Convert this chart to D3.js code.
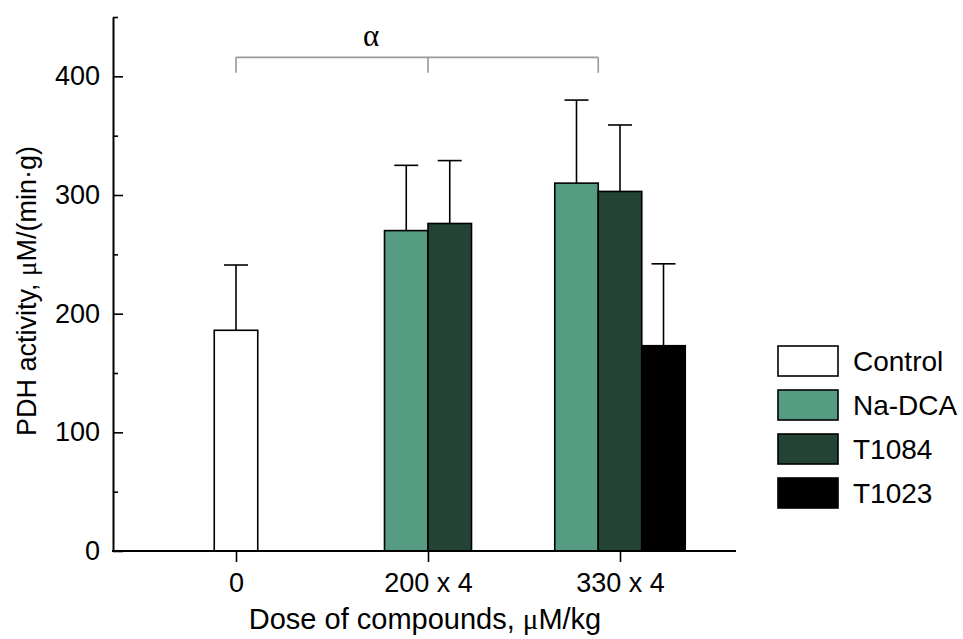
<!DOCTYPE html>
<html>
<head>
<meta charset="utf-8">
<script src="https://cdn.jsdelivr.net/npm/d3@7"></script>
<style>
  body { margin: 0; background: #fff; }
  text { font-family: "Liberation Sans", Arial, sans-serif; fill: #000; }
</style>
</head>
<body>
<svg id="chart" width="963" height="639"></svg>
<script>
// data
const categories = ["0", "200 x 4", "330 x 4"];
const seriesNames = ["Control", "Na-DCA", "T1084", "T1023"];
const seriesColors = ["#ffffff", "#559c83", "#234434", "#000000"];

const controlMean = [186, null, null];
const naDcaMean = [null, 270, 310];
const t1084Mean = [null, 276, 303];
const t1023Mean = [null, null, 173];

const controlSd = [55, null, null];
const naDcaSd = [null, 55, 70];
const t1084Sd = [null, 53, 56];
const t1023Sd = [null, null, 69];

const yMajorTicks = [0, 100, 200, 300, 400];
const yMinorTicks = [50, 150, 250, 350, 450];

const means = [controlMean, naDcaMean, t1084Mean, t1023Mean];
const sds = [controlSd, naDcaSd, t1084Sd, t1023Sd];

const svg = d3.select("#chart");
const plotLeft = 113, plotRight = 736, plotTop = 17, plotBottom = 551;
const barW = 43.5;

const y = d3.scaleLinear().domain([0, 450]).range([plotBottom, plotTop]);
const x = d3.scalePoint().domain(categories).range([236, 620]);

// build bar records, each group centred on its category
let bars = [];
categories.forEach((c, ci) => {
    const present = [];
    means.forEach((m, si) => { if (m[ci] !== null) present.push(si); });
    present.forEach((si, k) => {
        bars.push({
            cat: c,
            series: si,
            value: means[si][ci],
            sd: sds[si][ci],
            x0: x(c) + (k - present.length / 2) * barW
        });
    });
});

// bars
svg.append("g").selectAll("rect")
    .data(bars)
    .enter().append("rect")
    .attr("x", d => d.x0)
    .attr("y", d => y(d.value))
    .attr("width", barW)
    .attr("height", d => y(0) - y(d.value))
    .attr("fill", d => seriesColors[d.series])
    .attr("stroke", "#000")
    .attr("stroke-width", 1.6);

// upper error bars
const err = svg.append("g").attr("stroke", "#000").attr("stroke-width", 1.6);
err.selectAll(".v")
    .data(bars)
    .enter().append("line")
    .attr("x1", d => d.x0 + barW / 2).attr("x2", d => d.x0 + barW / 2)
    .attr("y1", d => y(d.value)).attr("y2", d => y(d.value + d.sd));
err.selectAll(".h")
    .data(bars)
    .enter().append("line")
    .attr("x1", d => d.x0 + barW / 2 - 12).attr("x2", d => d.x0 + barW / 2 + 12)
    .attr("y1", d => y(d.value + d.sd)).attr("y2", d => y(d.value + d.sd));

// y axis
const yAxis = svg.append("g")
    .attr("transform", `translate(${plotLeft},0)`)
    .call(d3.axisLeft(y).tickValues(yMajorTicks).tickSize(-10).tickSizeOuter(0).tickPadding(13));
yAxis.selectAll("text").attr("font-size", 27).style("font-size", "27px");
yAxis.select(".domain").attr("stroke-width", 2);
yAxis.selectAll(".tick line").attr("stroke-width", 1.6);
svg.append("g")
    .attr("transform", `translate(${plotLeft},0)`)
    .call(d3.axisLeft(y).tickValues(yMinorTicks).tickSize(-5).tickFormat(""))
    .call(g => g.select(".domain").remove())
    .selectAll(".tick line").attr("stroke-width", 1.6);

// x axis
const xAxis = svg.append("g")
    .attr("transform", `translate(0,${plotBottom})`)
    .call(d3.axisBottom(x).tickSize(11).tickPadding(11));
xAxis.select(".domain").remove();
xAxis.selectAll("text").attr("font-size", 27).style("font-size", "27px");
xAxis.selectAll(".tick line").attr("stroke-width", 1.6);
svg.append("line")
    .attr("x1", plotLeft - 1).attr("x2", plotRight)
    .attr("y1", plotBottom).attr("y2", plotBottom)
    .attr("stroke", "#000").attr("stroke-width", 2);

// significance bracket
const brY = y(416), dropY = y(403);
const brPts = [x(categories[0]), x(categories[1]), x(categories[2]) - barW / 2];
const br = svg.append("g").attr("stroke", "#999").attr("stroke-width", 1.6).attr("fill", "none");
br.append("line").attr("x1", brPts[0]).attr("x2", brPts[2]).attr("y1", brY).attr("y2", brY);
br.selectAll(".drop").data(brPts).enter().append("line")
    .attr("x1", d => d).attr("x2", d => d)
    .attr("y1", brY).attr("y2", dropY);
svg.append("text")
    .attr("x", (brPts[0] + brPts[2]) / 2 - 46)
    .attr("y", brY - 11)
    .attr("text-anchor", "middle")
    .style("font-family", "'Liberation Serif', serif")
    .style("font-size", "31px")
    .text("α");

// axis titles
const xt = svg.append("text")
    .attr("x", 425)
    .attr("y", 629)
    .attr("text-anchor", "middle")
    .style("font-size", "29px");
xt.append("tspan").text("Dose of compounds, ");
xt.append("tspan").style("font-family", "'Liberation Serif', serif").text("μ");
xt.append("tspan").text("M/kg");

const yt = svg.append("text")
    .attr("transform", "translate(36,291) rotate(-90)")
    .attr("text-anchor", "middle")
    .style("font-size", "27px");
yt.append("tspan").text("PDH activity, ");
yt.append("tspan").style("font-family", "'Liberation Serif', serif").text("μ");
yt.append("tspan").text("M/(min·g)");

// legend
const legend = svg.append("g").attr("transform", "translate(778,346)");
const items = legend.selectAll("g")
    .data(seriesNames)
    .enter().append("g")
    .attr("transform", (d, i) => `translate(0,${i * 44})`);
items.append("rect")
    .attr("width", 60).attr("height", 30)
    .attr("fill", (d, i) => seriesColors[i])
    .attr("stroke", "#000").attr("stroke-width", 1.6);
items.append("text")
    .attr("x", 75).attr("y", 15)
    .attr("dy", "0.35em")
    .style("font-size", "28px")
    .text(d => d);
</script>
</body>
</html>
